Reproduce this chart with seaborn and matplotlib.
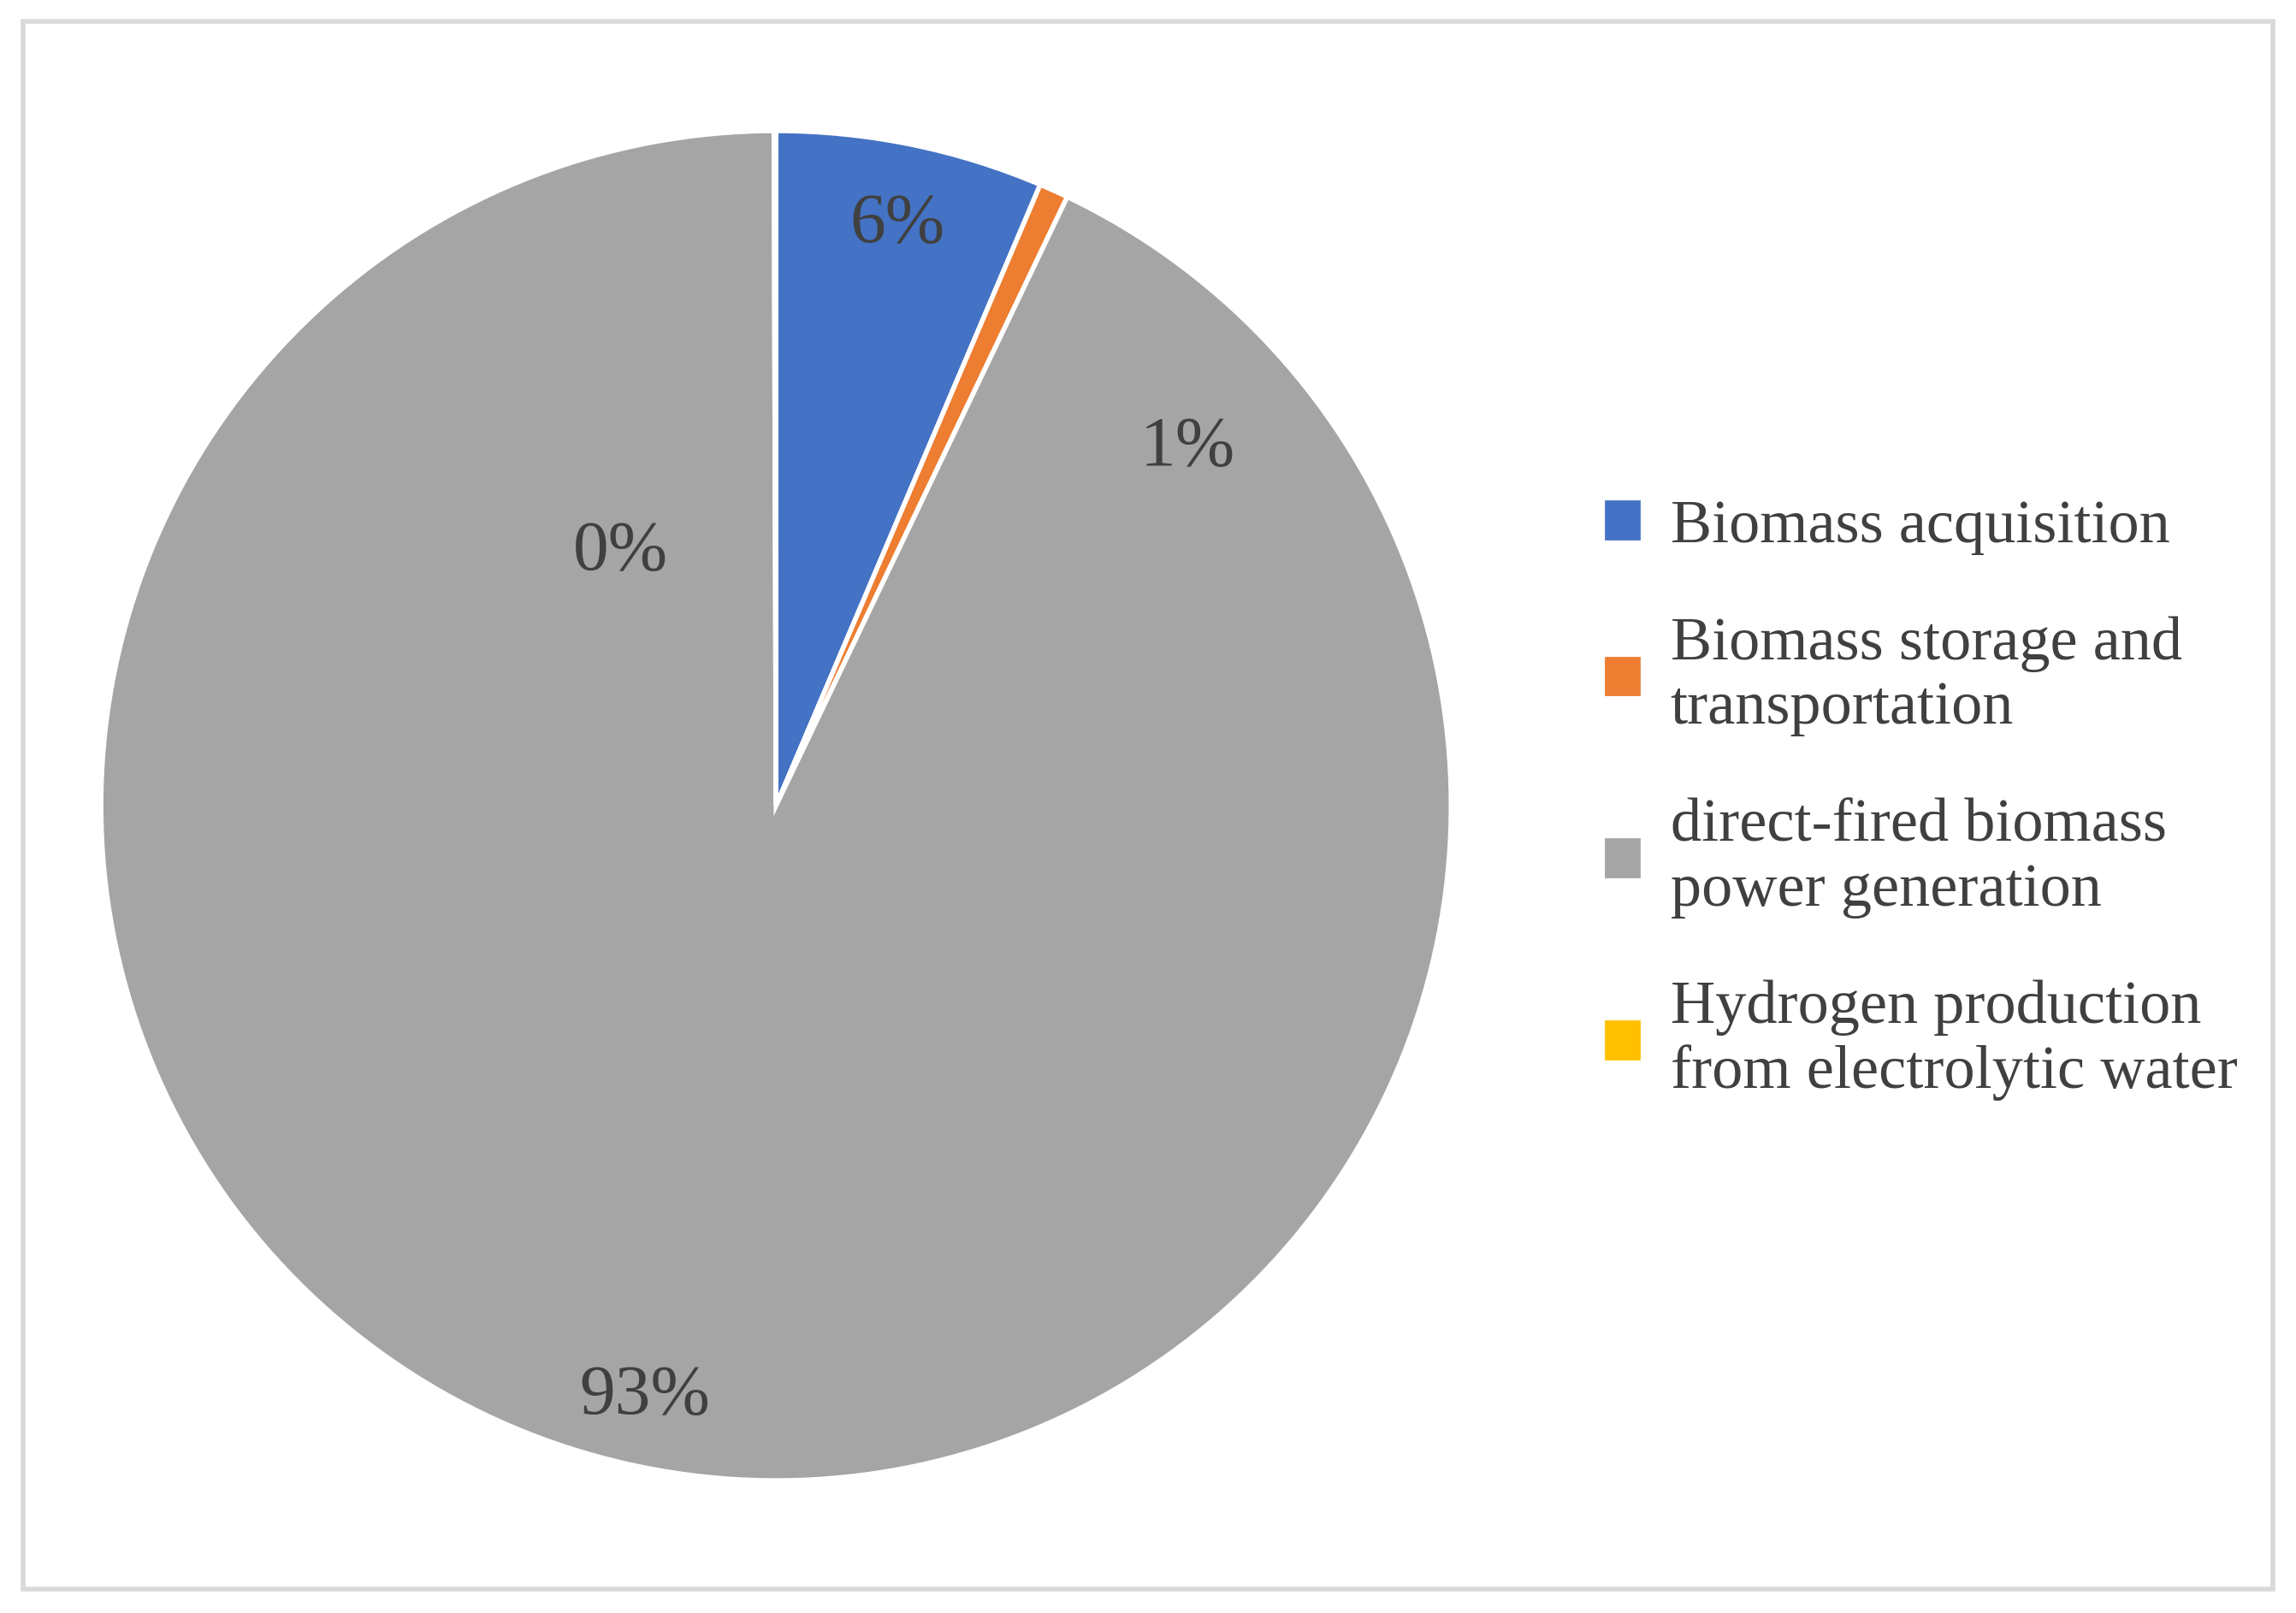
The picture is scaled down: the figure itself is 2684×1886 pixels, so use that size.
import matplotlib
matplotlib.use("Agg")
import matplotlib.pyplot as plt
import matplotlib.patches as mpatches
import seaborn as sns

# data
categories = ["Biomass acquisition",
              "Biomass storage and\ntransportation",
              "direct-fired biomass\npower generation",
              "Hydrogen production\nfrom electrolytic water"]
shares = [6.4, 0.7, 92.85, 0.05]
pct_labels = ["6%", "1%", "93%", "0%"]
colors = ["#4472C4", "#ED7D31", "#A5A5A5", "#FFC000"]

sns.set_theme(style="white")
plt.rcParams["font.family"] = ["Liberation Serif", "DejaVu Serif"]
text_color = "#404040"

fig = plt.figure(figsize=(13.42, 9.43), dpi=200)
ax = fig.add_axes([0.044, 0.082, 0.588, 0.837])
ax.pie(shares, colors=colors, startangle=90, counterclock=False,
       wedgeprops=dict(edgecolor="white", linewidth=2))
ax.set_xlim(-1, 1)
ax.set_ylim(-1, 1)
ax.set_aspect("equal")

# label positions as placed in the original
label_pos = [(0.18, 0.86), (0.61, 0.53), (-0.195, -0.876), (-0.23, 0.375)]
for txt, (x, y) in zip(pct_labels, label_pos):
    ax.text(x, y, txt, ha="center", va="center", fontsize=30, color=text_color)

handles = [mpatches.Patch(color=c) for c in colors]
leg = fig.legend(handles, categories, loc="upper left",
                 bbox_to_anchor=(0.675, 0.725), frameon=False,
                 fontsize=26, handlelength=0.55, handleheight=0.55,
                 handletextpad=0.5, labelspacing=1.0)
for t in leg.get_texts():
    t.set_color(text_color)

fig.patches.append(mpatches.Rectangle((0.01, 0.015), 0.98, 0.972,
                                      transform=fig.transFigure, fill=False,
                                      edgecolor="#D9D9D9", linewidth=2))
fig.savefig("out.png", dpi=200, facecolor="white")
